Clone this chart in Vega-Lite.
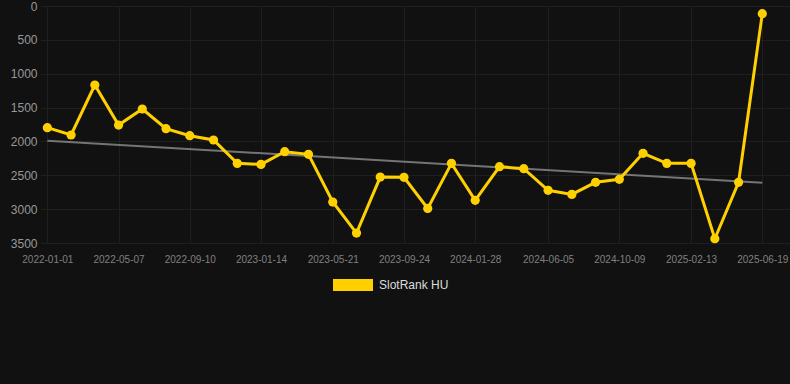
{
  "$schema": "https://vega.github.io/schema/vega-lite/v6.json",
  "width": 750,
  "height": 237,
  "autosize": {"type": "none"},
  "padding": {"left": 40, "top": 6, "right": 0, "bottom": 141},
  "background": "#111111",
  "datasets": {
    "rank": [
      {"date": "2022-01-01", "rank": 1797, "series": "SlotRank HU"},
      {"date": "2022-02-12", "rank": 1905, "series": "SlotRank HU"},
      {"date": "2022-03-26", "rank": 1167, "series": "SlotRank HU"},
      {"date": "2022-05-07", "rank": 1758, "series": "SlotRank HU"},
      {"date": "2022-06-18", "rank": 1521, "series": "SlotRank HU"},
      {"date": "2022-07-30", "rank": 1812, "series": "SlotRank HU"},
      {"date": "2022-09-10", "rank": 1915, "series": "SlotRank HU"},
      {"date": "2022-10-22", "rank": 1979, "series": "SlotRank HU"},
      {"date": "2022-12-03", "rank": 2324, "series": "SlotRank HU"},
      {"date": "2023-01-14", "rank": 2339, "series": "SlotRank HU"},
      {"date": "2023-02-25", "rank": 2152, "series": "SlotRank HU"},
      {"date": "2023-04-08", "rank": 2191, "series": "SlotRank HU"},
      {"date": "2023-05-21", "rank": 2895, "series": "SlotRank HU"},
      {"date": "2023-07-02", "rank": 3353, "series": "SlotRank HU"},
      {"date": "2023-08-13", "rank": 2526, "series": "SlotRank HU"},
      {"date": "2023-09-24", "rank": 2530, "series": "SlotRank HU"},
      {"date": "2023-11-05", "rank": 2989, "series": "SlotRank HU"},
      {"date": "2023-12-17", "rank": 2324, "series": "SlotRank HU"},
      {"date": "2024-01-28", "rank": 2870, "series": "SlotRank HU"},
      {"date": "2024-03-11", "rank": 2373, "series": "SlotRank HU"},
      {"date": "2024-04-23", "rank": 2403, "series": "SlotRank HU"},
      {"date": "2024-06-05", "rank": 2722, "series": "SlotRank HU"},
      {"date": "2024-07-17", "rank": 2782, "series": "SlotRank HU"},
      {"date": "2024-08-28", "rank": 2604, "series": "SlotRank HU"},
      {"date": "2024-10-09", "rank": 2560, "series": "SlotRank HU"},
      {"date": "2024-11-20", "rank": 2176, "series": "SlotRank HU"},
      {"date": "2025-01-01", "rank": 2324, "series": "SlotRank HU"},
      {"date": "2025-02-13", "rank": 2324, "series": "SlotRank HU"},
      {"date": "2025-03-27", "rank": 3437, "series": "SlotRank HU"},
      {"date": "2025-05-08", "rank": 2604, "series": "SlotRank HU"},
      {"date": "2025-06-19", "rank": 113, "series": "SlotRank HU"}
    ],
    "trend": [
      {"date": "2022-01-01", "rank": 1989},
      {"date": "2025-06-19", "rank": 2610}
    ]
  },
  "encoding": {
    "x": {
      "field": "date",
      "type": "temporal",
      "scale": {
        "type": "utc",
        "domain": [
          {"year": 2021, "month": 12, "date": 19, "utc": true},
          {"year": 2025, "month": 8, "date": 7, "utc": true}
        ]
      },
      "axis": {
        "title": null,
        "format": "%Y-%m-%d",
        "values": [
          {"year": 2022, "month": 1, "date": 1, "utc": true},
          {"year": 2022, "month": 5, "date": 7, "utc": true},
          {"year": 2022, "month": 9, "date": 10, "utc": true},
          {"year": 2023, "month": 1, "date": 14, "utc": true},
          {"year": 2023, "month": 5, "date": 21, "utc": true},
          {"year": 2023, "month": 9, "date": 24, "utc": true},
          {"year": 2024, "month": 1, "date": 28, "utc": true},
          {"year": 2024, "month": 6, "date": 5, "utc": true},
          {"year": 2024, "month": 10, "date": 9, "utc": true},
          {"year": 2025, "month": 2, "date": 13, "utc": true},
          {"year": 2025, "month": 6, "date": 19, "utc": true}
        ],
        "labelColor": "#808080",
        "labelFontSize": 10,
        "labelPadding": 11,
        "ticks": false,
        "tickSize": 0,
        "domain": false,
        "grid": true,
        "gridColor": "#1f1f1f",
        "labelOverlap": false
      }
    },
    "y": {
      "field": "rank",
      "type": "quantitative",
      "scale": {"domain": [0, 3500], "reverse": true, "nice": false, "zero": false},
      "axis": {
        "title": null,
        "format": "d",
        "values": [0, 500, 1000, 1500, 2000, 2500, 3000, 3500],
        "labelColor": "#999999",
        "labelFontSize": 12,
        "labelPadding": 3,
        "ticks": false,
        "tickSize": 0,
        "domain": false,
        "grid": true,
        "gridColor": "#1f1f1f"
      }
    }
  },
  "layer": [
    {
      "data": {"name": "trend"},
      "mark": {"type": "line", "color": "#808080", "strokeWidth": 2, "opacity": 0.9}
    },
    {
      "data": {"name": "rank"},
      "mark": {"type": "line", "color": "#FFD000", "strokeWidth": 3}
    },
    {
      "data": {"name": "rank"},
      "mark": {"type": "point", "filled": true, "size": 85, "opacity": 1, "shape": "circle"},
      "encoding": {
        "color": {
          "field": "series",
          "type": "nominal",
          "scale": {"range": ["#FFD000"]},
          "legend": {
            "title": null,
            "orient": "none",
            "legendX": 293,
            "legendY": 259,
            "symbolType": "M-1,-0.3H1V0.3H-1Z",
            "symbolSize": 1600,
            "symbolOpacity": 1,
            "symbolStrokeWidth": 0,
            "labelColor": "#dddddd",
            "labelFontSize": 12,
            "labelOffset": 6
          }
        }
      }
    }
  ],
  "config": {
    "view": {"stroke": null},
    "font": "Liberation Sans"
  }
}
